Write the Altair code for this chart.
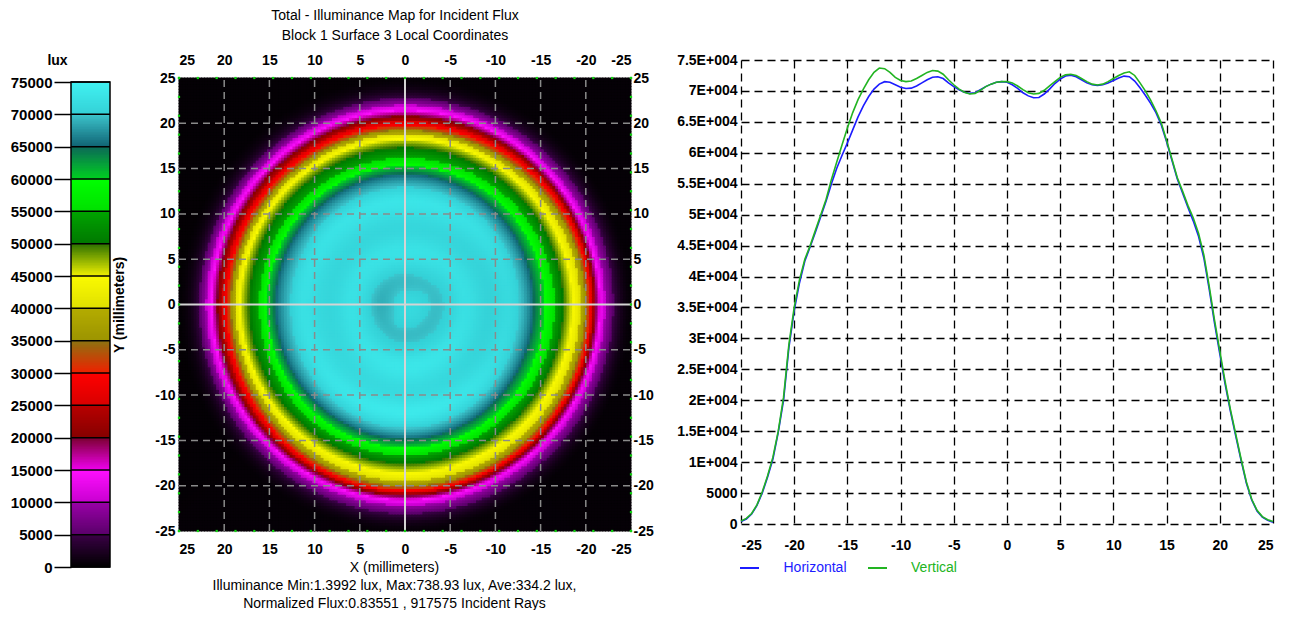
import altair as alt
import numpy as np
import pandas as pd

alt.data_transformers.disable_max_rows()

# ---------------- data ----------------
positions = [i / 2 for i in range(-50, 51)]  # -25 .. 25 mm, 0.5 mm sampling

horizontal = [
    400, 800, 1600, 3000, 5000, 7600, 10500, 14800, 20000, 28500,
    34500, 39000, 42500, 44800, 47200, 49700, 52200, 55000, 57500, 59600,
    61600, 63700, 65800, 67600, 69100, 70300, 71100, 71500, 71400, 71000,
    70600, 70400, 70450, 70800, 71300, 71800, 72200, 72300, 72000, 71300,
    70700, 70200, 69800, 69600, 69700, 70200, 70700, 71100, 71400, 71500,
    71400, 71000, 70400, 69700, 69200, 68900, 68950, 69500, 70300, 71200,
    71900, 72400, 72550, 72300, 71800, 71300, 71000, 70900, 71000, 71300,
    71700, 72100, 72400, 72300, 71600, 70500, 69300, 68000, 66500, 64500,
    61800, 58800, 55800, 53500, 51200, 49000, 46500, 43000, 38000, 32500,
    27500, 22600, 18200, 14200, 10300, 6600, 3900, 2100, 1100, 600, 300,
]

vertical = [
    500, 900, 1700, 3100, 5200, 7800, 10800, 15000, 20500, 29000,
    35000, 39500, 42800, 45000, 47500, 50000, 52500, 55700, 58500, 61300,
    64000, 66500, 68600, 70300, 71800, 73000, 73700, 73600, 73000, 72200,
    71700, 71500, 71600, 72000, 72500, 73000, 73300, 73200, 72700, 71800,
    71000, 70300, 69800, 69500, 69600, 70100, 70700, 71100, 71400, 71500,
    71500, 71300, 70800, 70200, 69700, 69500, 69600, 70100, 70800, 71500,
    72200, 72600, 72700, 72500, 72000, 71500, 71100, 70950, 71100, 71500,
    72000, 72500, 72900, 73100, 72500, 71300, 70000, 68500, 66800, 64800,
    62000, 59000, 56000, 53800, 51500, 49500, 47000, 43500, 38500, 33000,
    28000, 23000, 18500, 14500, 10500, 6800, 4000, 2200, 1200, 700, 400,
]

series_names = ["Horizontal", "Vertical"]
series_colors = ["#1c1cff", "#22b422"]

lux_ticks = list(range(0, 75001, 5000))
mm_ticks = list(range(-25, 26, 5))
grid_ticks = [-20, -15, -10, -5, 5, 10, 15, 20]

color_stops = [0, 4999, 5000, 9999, 10000, 14999, 15000, 19999, 20000, 24999,
               25000, 29999, 30000, 34999, 35000, 39999, 40000, 44999, 45000, 49999,
               50000, 54999, 55000, 59999, 60000, 64999, 65000, 69999, 70000, 75000]
color_values = ["#000000", "#3a0046", "#5a006a", "#9a00a8", "#c800d0", "#ff10ff",
                "#f000ee", "#7a0030", "#860000", "#b80000", "#d80000", "#ff0000",
                "#f02000", "#8c7410", "#9c9400", "#b4ac00", "#e0e000", "#fafa00",
                "#f0f000", "#2c7000", "#007800", "#00a400", "#00e000", "#00ff00",
                "#00d020", "#0c6858", "#106474", "#3cc4cc", "#34d0d6", "#40f2f2"]

title_lines = ["Total - Illuminance Map for Incident Flux",
               "Block 1 Surface 3    Local Coordinates"]
x_title_lines = ["X (millimeters)",
                 "Illuminance Min:1.3992 lux, Max:738.93 lux, Ave:334.2 lux,",
                 "Normalized Flux:0.83551 , 917575 Incident Rays"]

FONT = "Liberation Sans"

# ---------------- tables built from the arrays ----------------
line_df = pd.DataFrame({
    "pos": positions * 2,
    "val": horizontal + vertical,
    "series": ["Horizontal"] * len(positions) + ["Vertical"] * len(positions),
})

# illuminance map: built from the two measured cuts (horizontal and vertical)
step = 50 / 160
half = step / 2 + 0.05
centers = np.round(np.arange(-25 + step / 2, 25, step), 3)
GX, GY = np.meshgrid(centers, centers)
R = np.hypot(GX, GY)
cos2 = GX ** 2 / R ** 2
sin2 = GY ** 2 / R ** 2
Hv = np.interp(np.sign(GX) * R, positions, horizontal)
Vv = np.interp(np.sign(GY) * R, positions, vertical)
V = cos2 * Hv + sin2 * Vv
grid_df = pd.DataFrame({"x": GX.ravel(), "y": GY.ravel(), "v": np.round(V.ravel()).astype(int)})

bar_lo = list(range(0, 75000, 250))
bar_df = pd.DataFrame({"lo": bar_lo, "hi": [min(b + 400, 75000) for b in bar_lo],
                       "mid": [b + 125 for b in bar_lo]})

color_scale = alt.Scale(domain=color_stops, range=color_values, interpolate="rgb", clamp=True)

# ---------------- colour bar ----------------
CB_W, CB_H = 39, 508
cb_y = alt.Scale(domain=[0, 75000], range=[507, 22], nice=False)
cb_axis = alt.Axis(
    values=lux_ticks, title="lux", titleAngle=0, titleAlign="center",
    titleBaseline="alphabetic", titleX=-14, titleY=4, titleFontSize=14,
    titleFontWeight="bold", titleFont=FONT, titleColor="black",
    labelFontSize=15, labelFontWeight="bold", labelFont=FONT, labelPadding=2,
    labelColor="black", labelOverlap=False,
    tickSize=17, tickColor="black", tickWidth=1.5, domain=False, grid=False,
    labelExpr="'' + datum.value")
cb_rects = alt.Chart(bar_df).mark_rect().encode(
    x=alt.value(0), x2=alt.value(CB_W),
    y=alt.Y("lo:Q", scale=cb_y, axis=cb_axis),
    y2="hi:Q",
    color=alt.Color("mid:Q", scale=color_scale, legend=None),
)
cb_sep = alt.Chart(pd.DataFrame({"lo": lux_ticks})).mark_rule(color="black", strokeWidth=1.5).encode(
    x=alt.value(0), x2=alt.value(CB_W), y=alt.Y("lo:Q", scale=cb_y, axis=cb_axis))
cb_frame = alt.Chart(pd.DataFrame({"lo": [0], "hi": [75000]})).mark_rect(
    fillOpacity=0, stroke="black", strokeWidth=1.5).encode(
    x=alt.value(0), x2=alt.value(CB_W), y=alt.Y("lo:Q", scale=cb_y, axis=cb_axis), y2="hi:Q")
colorbar = alt.layer(cb_rects, cb_sep, cb_frame).properties(width=CB_W, height=CB_H)

# ---------------- illuminance map ----------------
HM_W, HM_H = 452, 471
hx = alt.Scale(domain=[25, -25], nice=False)
hy = alt.Scale(domain=[-25, 25], range=[471, 18], nice=False)
lab = dict(labelFont=FONT, labelFontSize=14, labelFontWeight="bold", labelColor="black",
           ticks=False, domain=False, grid=False, values=mm_ticks, labelExpr="'' + datum.value",
           labelOverlap=False)

heat = alt.Chart(grid_df).mark_rect().transform_calculate(
    xa=f"datum.x + {half}", xb=f"datum.x - {half}", ya=f"datum.y - {half}", yb=f"datum.y + {half}"
).encode(
    x=alt.X("xa:Q", scale=hx, axis=alt.Axis(orient="bottom", labelPadding=11,
            title=x_title_lines, titleFont=FONT, titleFontSize=14, titleFontWeight="normal",
            titleColor="black", titleLineHeight=18, titlePadding=4, titleX=215, **lab)),
    x2="xb:Q",
    y=alt.Y("ya:Q", scale=hy, axis=alt.Axis(orient="left", labelPadding=4,
            title="Y (millimeters)", titleFont=FONT, titleFontSize=14, titleFontWeight="bold",
            titleColor="black", titlePadding=28, **lab)),
    y2="yb:Q",
    color=alt.Color("v:Q", scale=color_scale, legend=None),
)
rule_style = dict(color="#8a8a8a", strokeDash=[7, 5], strokeWidth=1.5)
vgrid = alt.Chart(pd.DataFrame({"g": grid_ticks})).mark_rule(**rule_style).encode(
    x=alt.X("g:Q", scale=hx, axis=None), y=alt.Y("lo:Q", scale=hy, axis=None), y2="hi:Q"
).transform_calculate(lo="-25", hi="25")
hgrid = alt.Chart(pd.DataFrame({"g": grid_ticks})).mark_rule(**rule_style).encode(
    y=alt.Y("g:Q", scale=hy, axis=None), x=alt.X("lo:Q", scale=hx, axis=None), x2="hi:Q"
).transform_calculate(lo="25", hi="-25")
cross_v = alt.Chart(pd.DataFrame({"g": [0]})).mark_rule(color="#d4d4d4", strokeWidth=2).encode(
    x=alt.X("g:Q", scale=hx, axis=None), y=alt.Y("lo:Q", scale=hy, axis=None), y2="hi:Q"
).transform_calculate(lo="-25", hi="25")
cross_h = alt.Chart(pd.DataFrame({"g": [0]})).mark_rule(color="#d4d4d4", strokeWidth=2).encode(
    y=alt.Y("g:Q", scale=hy, axis=None), x=alt.X("lo:Q", scale=hx, axis=None), x2="hi:Q"
).transform_calculate(lo="25", hi="-25")

edge = [round(25 - i * 50 / 24, 3) for i in range(25)]
dots_df = pd.DataFrame({
    "dx": edge + edge + [25] * 25 + [-25] * 25,
    "dy": [25] * 25 + [-25] * 25 + edge + edge,
})
dots = alt.Chart(dots_df).mark_square(color="#10d010", size=5, opacity=1).encode(
    x=alt.X("dx:Q", scale=hx, axis=alt.Axis(orient="top", offset=-18, labelPadding=11, title=None, **lab)),
    y=alt.Y("dy:Q", scale=hy, axis=alt.Axis(orient="right", labelPadding=2, title=None, **lab)),
)

heatmap = alt.layer(heat, vgrid, hgrid, cross_v, cross_h, dots).resolve_axis(
    x="independent", y="independent"
).properties(
    width=HM_W, height=HM_H,
    title=alt.TitleParams(text=title_lines, font=FONT, fontSize=14, fontWeight="normal",
                          lineHeight=20, offset=10, anchor="middle", dx=-10, color="black"),
)

# ---------------- profile plot ----------------
LC_W, LC_H = 573, 464
lx = alt.Scale(domain=[-25, 25], range=[41, 573], nice=False)
ly = alt.Scale(domain=[0, 75000], nice=False)
gridstyle = dict(grid=True, gridColor="black", gridDash=[8, 5], gridWidth=1.3, gridOpacity=1,
                 ticks=False, domain=False, labelFont=FONT, labelFontSize=14,
                 labelFontWeight="bold", labelColor="black", title=None, labelOverlap=False)
lines = alt.Chart(line_df).mark_line(strokeWidth=1.6).encode(
    x=alt.X("pos:Q", scale=lx, axis=alt.Axis(values=mm_ticks, labelPadding=14,
            labelExpr="'' + datum.value", **gridstyle)),
    y=alt.Y("val:Q", scale=ly, axis=alt.Axis(values=lux_ticks, offset=-41, labelPadding=4,
            labelExpr="datum.value >= 10000 ? (datum.value / 10000) + 'E+004' : '' + datum.value",
            **gridstyle)),
    color=alt.Color("series:N", scale=alt.Scale(domain=series_names, range=series_colors), legend=None),
)
one = pd.DataFrame({"k": [0]})
leg_h_line = alt.Chart(one).mark_rule(color=series_colors[0], strokeWidth=2).encode(
    x=alt.value(40), x2=alt.value(59), y=alt.value(508))
leg_v_line = alt.Chart(one).mark_rule(color=series_colors[1], strokeWidth=2).encode(
    x=alt.value(168), x2=alt.value(187), y=alt.value(508))
leg_h_text = alt.Chart(one).mark_text(text=series_names[0], color=series_colors[0], font=FONT,
                                      fontSize=14, align="center", baseline="middle").encode(
    x=alt.value(115), y=alt.value(508))
leg_v_text = alt.Chart(one).mark_text(text=series_names[1], color=series_colors[1], font=FONT,
                                      fontSize=14, align="center", baseline="middle").encode(
    x=alt.value(234), y=alt.value(508))
profile = alt.layer(lines, leg_h_line, leg_v_line, leg_h_text, leg_v_text).properties(
    width=LC_W, height=LC_H)

chart = alt.hconcat(colorbar, heatmap, profile, spacing=69, bounds="flush").configure_view(
    stroke=None
).properties(padding={"left": 2, "top": 1, "right": 0, "bottom": 0}, background="white")

chart.save("out.html", embed_options={"renderer": "svg", "actions": False})
